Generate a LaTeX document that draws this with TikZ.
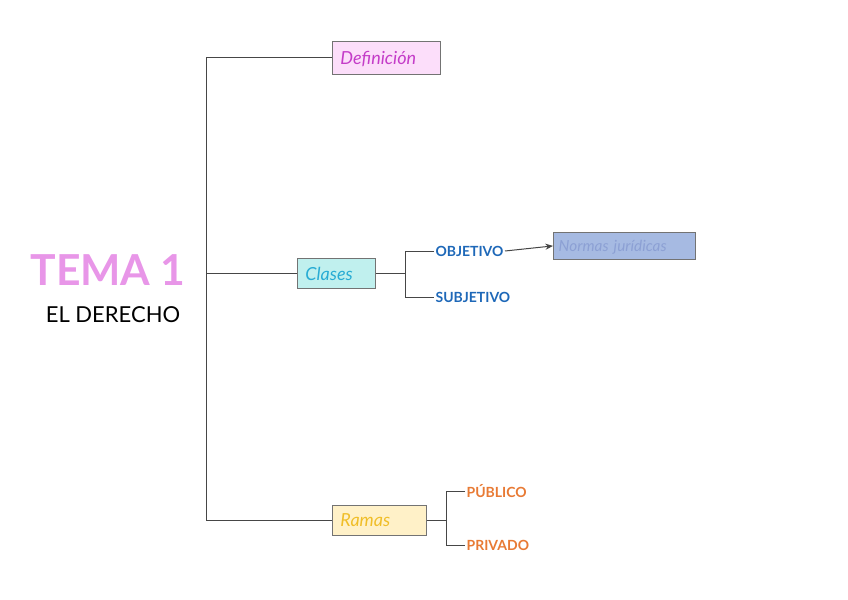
\documentclass[tikz,border=0pt]{standalone}
\usepackage{fontspec}
\setmainfont{Lato}
\usetikzlibrary{positioning,arrows.meta}
\definecolor{tmpink}{RGB}{232,150,232}
\definecolor{tmdeffill}{RGB}{252,222,250}
\definecolor{tmdeftext}{RGB}{196,60,200}
\definecolor{tmclafill}{RGB}{192,240,238}
\definecolor{tmclatext}{RGB}{40,172,212}
\definecolor{tmblue}{RGB}{30,104,184}
\definecolor{tmnorfill}{RGB}{166,186,226}
\definecolor{tmnortext}{RGB}{140,160,212}
\definecolor{tmramfill}{RGB}{255,241,200}
\definecolor{tmramtext}{RGB}{240,190,40}
\definecolor{tmorange}{RGB}{232,122,52}
\definecolor{tmline}{RGB}{70,70,70}
\tikzset{
  tmbox/.style n args={3}{
    draw=black!55, fill=#1, text=#2, line width=0.6pt,
    font=\itshape\fontsize{13.5}{15}\selectfont,
    anchor=north west, inner xsep=6pt, inner ysep=0pt, align=left,
    text width=#3, text depth=0pt
  },
  tmleaf/.style={font=\bfseries\fontsize{10.5}{12}\selectfont, text=#1, anchor=west, inner sep=1pt},
  tmlink/.style={draw=tmline, line width=0.75pt},
  tmarr/.style={tmlink, -{Stealth[length=2mm,width=1.6mm]}},
}

\begin{document}
\begin{tikzpicture}[x=0.75pt, y=-0.75pt]
    \useasboundingbox (0,0) rectangle (848,599);

    % title
    \node[font=\bfseries\fontsize{32}{36}\selectfont, text=tmpink] (tema) at (108,270) {TEMA 1};
    \node[font=\fontsize{16.5}{20}\selectfont, text=black] (derecho) at (113,315) {EL DERECHO};

    % first level boxes
    \node[tmbox={tmdeffill}{tmdeftext}{69pt}, minimum height=24.75pt]
      (def) at (332,41) {Definición};
    \node[tmbox={tmclafill}{tmclatext}{46.5pt}, minimum height=22.5pt]
      (clases) at (297,258) {Clases};
    \node[tmbox={tmramfill}{tmramtext}{58.5pt}, minimum height=22.5pt]
      (ramas) at (332,505) {Ramas};

    % leaves
    \node[tmleaf=tmblue] (obj) at (434,251) {OBJETIVO};
    \node[tmleaf=tmblue] (sub) at (434,297) {SUBJETIVO};
    \node[tmbox={tmnorfill}{tmnortext}{98.5pt}, minimum height=20.25pt, inner xsep=4pt,
      font=\itshape\fontsize{11.5}{13}\selectfont]
      (normas) at (553,232) {Normas jurídicas};
    \node[tmleaf=tmorange] (pub) at (465,491) {PÚBLICO};
    \node[tmleaf=tmorange] (pri) at (465,545) {PRIVADO};

    % trunk
    \coordinate (trunk) at (206,0);
    \draw[tmlink] (def.west) -| (trunk |- ramas.west) -- (ramas.west);
    \draw[tmlink] (clases.west) -- (clases.west -| trunk);

    % branches
    \coordinate (clasfork) at (405,0);
    \draw[tmlink] (clases.east) -- (clases.east -| clasfork);
    \draw[tmlink] (obj.west) -| (clasfork |- sub.west) -- (sub.west);
    \draw[tmarr] (obj.east) -- (normas.west);

    \coordinate (ramfork) at (446,0);
    \draw[tmlink] (ramas.east) -- (ramas.east -| ramfork);
    \draw[tmlink] (pub.west) -| (ramfork |- pri.west) -- (pri.west);
\end{tikzpicture}
\end{document}
